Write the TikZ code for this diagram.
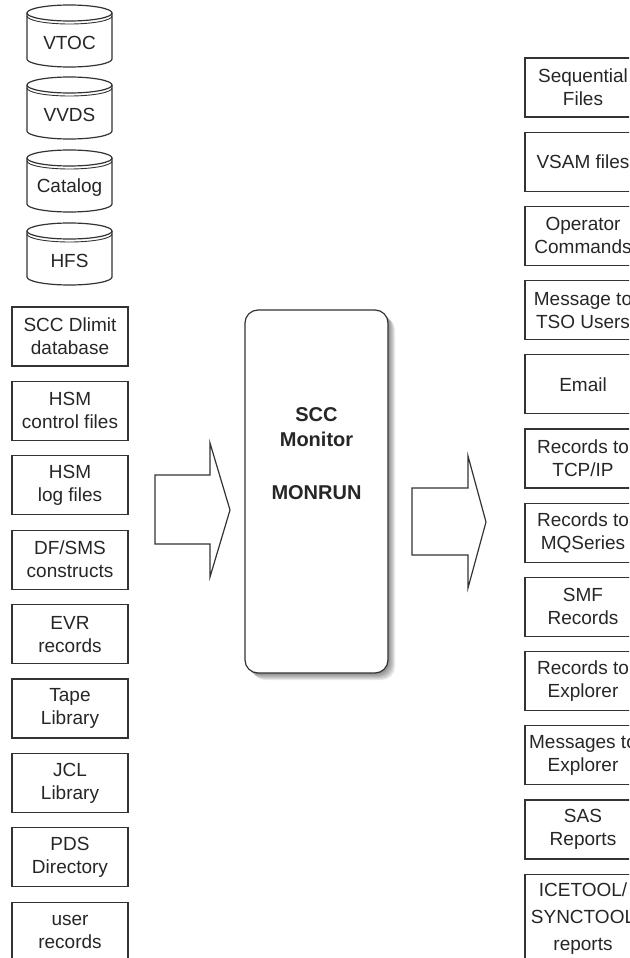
\documentclass[tikz,border=0pt]{standalone}
\usepackage{fontspec}
\setmainfont{Liberation Sans}
\begin{document}
\begin{tikzpicture}[x=1pt,y=-1pt,
  ln/.style={draw=black!80, line width=1.2pt},
  boxfont/.style={font=\fontsize{19}{23}\selectfont, text=black!85},
  box/.style={ln, boxfont, rectangle, minimum width=116pt, minimum height=59pt, inner sep=0pt, align=center},
  cyltext/.style={boxfont, inner sep=0pt},
  montext/.style={font=\fontsize{20}{25}\selectfont\bfseries, text=black!85, align=center, inner sep=0pt},
  monbox/.style={ln, fill=white, rounded corners=13pt, minimum width=143pt, minimum height=363pt, inner sep=0pt},
  blockarrow/.style={ln, fill=white, line join=miter}]
\useasboundingbox (0,0) rectangle (629,958);
\clip (0,0) rectangle (629,958);
% cylinders
\foreach \t/\n/\l in {5/c1/VTOC, 77/c2/VVDS, 150/c3/Catalog, 223/c4/HFS}{
  \draw[ln, fill=white] (27,\t+8) -- (27,\t+54) arc[start angle=180, end angle=360, x radius=42.5pt, y radius=8pt] -- (112,\t+8);
  \draw[ln] (69.5,\t+8) ellipse [x radius=42.5pt, y radius=8pt];
  \draw[ln, line width=0.9pt] (27,\t+11) arc[start angle=180, end angle=360, x radius=42.5pt, y radius=8pt];
  \node[cyltext] (\n) at (69.5,\t+38) {\l};
}
% left boxes
\node[box] (l1) at (70,336.5) {SCC Dlimit\\database};
\node[box] (l2) at (70,410.9) {HSM\\control files};
\node[box] (l3) at (70,485.3) {HSM\\log files};
\node[box] (l4) at (70,559.7) {DF/SMS\\constructs};
\node[box] (l5) at (70,634.1) {EVR\\records};
\node[box] (l6) at (70,708.5) {Tape\\Library};
\node[box] (l7) at (70,782.9) {JCL\\Library};
\node[box] (l8) at (70,857.3) {PDS\\Directory};
\node[box] (l9) at (70,931.7) {user\\records};
% monitor box with shadow
\foreach \s in {1,...,7}{
  \fill[black, opacity=0.08, rounded corners=13pt] (245+\s,310+\s) rectangle (388+\s,673+\s);
}
\node[monbox] (mon) at (316.5,491.5) {};
\node[montext] (mt) at (316.5,454) {SCC\\Monitor\\[28pt]MONRUN};
% block arrows
\draw[blockarrow] (155,475) -- (210,475) -- (210,443) -- (230,510) -- (210,577) -- (210,544) -- (155,544) -- cycle;
\draw[blockarrow] (412,488) -- (468,488) -- (468,456) -- (486,522) -- (468,588) -- (468,555) -- (412,555) -- cycle;
% right boxes
\node[box] (r1) at (583,87.5) {Sequential\\Files};
\node[box] (r2) at (583,161.7) {VSAM files};
\node[box] (r3) at (583,235.9) {Operator\\Commands};
\node[box] (r4) at (583,310.1) {Message to\\TSO Users};
\node[box] (r5) at (583,384.3) {Email};
\node[box] (r6) at (583,458.5) {Records to\\TCP/IP};
\node[box] (r7) at (583,532.7) {Records to\\MQSeries};
\node[box] (r8) at (583,606.9) {SMF\\Records};
\node[box] (r9) at (583,681.1) {Records to\\Explorer};
\node[box] (r10) at (583,755.3) {Messages to\\Explorer};
\node[box] (r11) at (583,829.5) {SAS\\Reports};
\node[box, minimum height=88pt, font=\fontsize{19}{27}\selectfont] (r12) at (583,918.2) {ICETOOL/\\SYNCTOOL\\reports};
\end{tikzpicture}
\end{document}
